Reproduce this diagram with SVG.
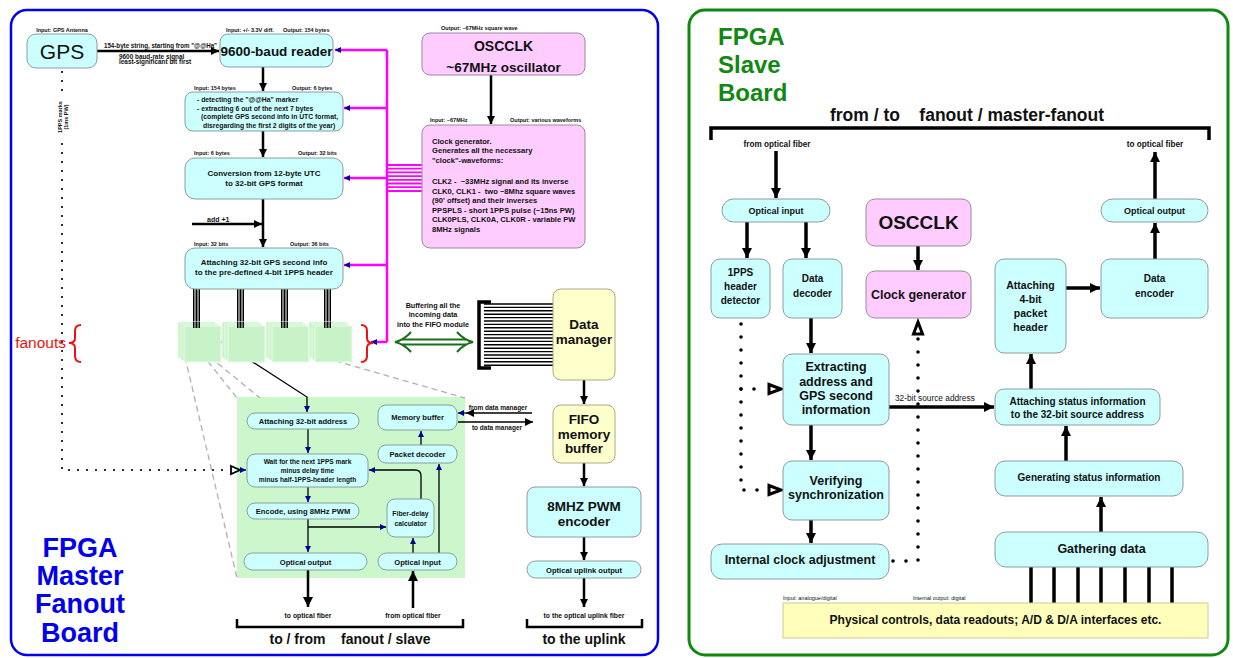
<svg xmlns="http://www.w3.org/2000/svg" width="1233" height="658" viewBox="0 0 1233 658">
<style>
text{font-family:"Liberation Sans",Arial,sans-serif;font-weight:bold;fill:#111}
.c{text-anchor:middle}
.tiny{font-size:5.5px;font-weight:bold}
.cy{fill:#ccffff;stroke:#8c9c9c;stroke-width:1}
.pk{fill:#ffccff;stroke:#9a8a9a;stroke-width:1}
.yl{fill:#ffffcc;stroke:#aaaa88;stroke-width:1}
.ln{stroke:#000;fill:none;stroke-width:2.5}
.lnR{stroke:#000;fill:none;stroke-width:3.5}
.thin{stroke:#000;fill:none;stroke-width:1.3}
.mg{stroke:#ff00ff;fill:none;stroke-width:2.5}
.dash{stroke:#b0b0b0;fill:none;stroke-width:1.3;stroke-dasharray:6 4}
.dotL{stroke:#000;fill:none;stroke-width:2.2;stroke-linecap:round;stroke-dasharray:0 9}
.dotR{stroke:#000;fill:none;stroke-width:3.6;stroke-linecap:round;stroke-dasharray:0 13}
.fan{fill:#c8f3c8;stroke:#eafbea;stroke-width:1}
</style>
<defs>
<marker id="ah" viewBox="0 0 10 10" refX="10" refY="5" markerWidth="11" markerHeight="8" markerUnits="userSpaceOnUse" orient="auto"><path d="M0,0 L10,5 L0,10 z" fill="#000"/></marker>
<marker id="ahL" viewBox="0 0 10 10" refX="10" refY="5" markerWidth="15" markerHeight="10" markerUnits="userSpaceOnUse" orient="auto"><path d="M0,0 L10,5 L0,10 z" fill="#000"/></marker>
<marker id="ab" viewBox="0 0 10 10" refX="10" refY="5" markerWidth="7" markerHeight="6" markerUnits="userSpaceOnUse" orient="auto"><path d="M0,0 L10,5 L0,10 z" fill="#000099"/></marker>
</defs>
<rect width="1233" height="658" fill="#ffffff"/>

<!-- panels -->
<rect x="11" y="10" width="647" height="645" rx="16" fill="none" stroke="#0000ee" stroke-width="2.5"/>
<rect x="689" y="10" width="539" height="645" rx="16" fill="none" stroke="#118811" stroke-width="3"/>

<!-- fanout detail background -->
<rect x="237" y="397" width="228" height="181" fill="#ccf7cc"/>

<g id="connectors">
  <!-- dashed zoom lines -->
  <path class="dash" d="M183,330 L237,398"/>
  <path class="dash" d="M185,357 L237,578"/>
  <path class="dash" d="M210,357 L260,398"/>
  <path class="dash" d="M220,328 L465,398"/>
  <!-- GPS to reader -->
  <path class="ln" d="M97,51 H219" marker-end="url(#ah)"/>
  <path class="ln" d="M263,67 V91" marker-end="url(#ah)"/>
  <path class="ln" d="M263,131 V157" marker-end="url(#ah)"/>
  <path class="ln" d="M263,199 V247" marker-end="url(#ah)"/>
  <path class="ln" d="M192,224 H262" marker-end="url(#ah)"/>
  <path class="ln" d="M491,75 V124" marker-end="url(#ah)"/>
  <!-- magenta clock distribution -->
  <path class="mg" d="M387,50 V342"/>
  <path class="mg" d="M387,50 H335" marker-end="url(#ab)"/>
  <path class="mg" d="M387,108 H344" marker-end="url(#ab)"/>
  <path class="mg" d="M387,178 H344" marker-end="url(#ab)"/>
  <path class="mg" d="M387,265 H344" marker-end="url(#ab)"/>
  <path class="mg" d="M387,342 H371" marker-end="url(#ab)"/>
  <path stroke="#ff00ff" stroke-width="1.8" fill="none" d="M387,165H422M387,168.7H422M387,172.4H422M387,176.1H422M387,179.8H422M387,183.5H422M387,187.2H422M387,191H422"/>
  <!-- fanout bundles -->
  <path stroke="#000" stroke-width="1" fill="none" d="M193.5,289V328M195,289V328M196.5,289V328M198,289V328M199.5,289V328M237.5,289V328M239,289V328M240.5,289V328M242,289V328M243.5,289V328M281.5,289V328M283,289V328M284.5,289V328M286,289V328M287.5,289V328M324.5,289V328M326,289V328M327.5,289V328M329,289V328M330.5,289V328"/>
  <!-- diagonal to detail -->
  <path class="thin" d="M200,328 L307,397 V412" marker-end="url(#ab)"/>
  <!-- detail internal -->
  <path class="thin" d="M308,429 V453" marker-end="url(#ab)"/>
  <path class="thin" d="M308,487 V502" marker-end="url(#ab)"/>
  <path class="thin" d="M308,519 V552" marker-end="url(#ab)"/>
  <path class="thin" d="M308,527 H386" marker-end="url(#ab)"/>
  <path class="thin" d="M421,499 V476 Q421,470 415,470 H369" marker-end="url(#ab)"/>
  <path class="thin" d="M413,553 V538" marker-end="url(#ab)"/>
  <path class="thin" d="M439,553 V464" marker-end="url(#ab)"/>
  <path class="thin" d="M421,445 V431" marker-end="url(#ab)"/>
  <path class="thin" d="M532,413 H466" marker-end="url(#ah)"/>
  <path class="thin" d="M466,413 H458" marker-end="url(#ab)"/>
  <path class="thin" d="M458,422 H533" marker-end="url(#ah)"/>
  <!-- fiber -->
  <path class="ln" d="M308,570 V607" marker-end="url(#ahL)"/>
  <path class="ln" d="M413,608 V571" marker-end="url(#ahL)"/>
  <path class="ln" d="M237,619 V627 H463 V619" stroke-width="2.2"/>
  <!-- uplink chain -->
  <path class="ln" d="M584,380 V404" marker-end="url(#ah)"/>
  <path class="ln" d="M584,463 V486" marker-end="url(#ah)"/>
  <path class="ln" d="M584,537 V560" marker-end="url(#ah)"/>
  <path class="ln" d="M584,578 V607" marker-end="url(#ah)"/>
  <path class="ln" d="M527,619 V627 H642 V619" stroke-width="2.2"/>
  <!-- GPS 1PPS dotted -->
  <path class="dotL" d="M62,72 V470 H230"/>
  <polygon points="231,466 240,470 231,474" fill="#fff" stroke="#000" stroke-width="1.8"/>
  <path class="thin" d="M240,470 H246" marker-end="url(#ab)"/>
  <!-- green double arrow -->
  <g stroke="#1a6e1a" stroke-width="2" fill="none">
    <path d="M402,339.5 H466 M402,344.5 H466"/>
    <path d="M411,332 Q404,340 395,342 Q404,344 411,352"/>
    <path d="M457,332 Q464,340 473,342 Q464,344 457,352"/>
  </g>
  <!-- ribbon -->
  <path stroke="#000" stroke-width="3.5" fill="none" d="M491,302 H479 V368 H491"/>
  <path stroke="#000" stroke-width="1.4" fill="none" d="M484,304H553M484,307.4H553M484,310.8H553M484,314.2H553M484,317.6H553M484,321H553M484,324.4H553M484,327.8H553M484,331.2H553M484,334.6H553M484,338H553M484,341.4H553M484,344.8H553M484,348.2H553M484,351.6H553M484,355H553M484,358.4H553M484,361.8H553M484,365.2H553"/>

  <!-- right panel -->
  <path class="lnR" d="M711,140 V128 H1209 V140" stroke-width="3"/>
  <path class="lnR" d="M776,151 V198" marker-end="url(#ahL)"/>
  <path class="lnR" d="M1155,199 V152" marker-end="url(#ahL)"/>
  <path class="lnR" d="M747,222 V258" marker-end="url(#ahL)"/>
  <path class="lnR" d="M806,222 V258" marker-end="url(#ahL)"/>
  <path class="lnR" d="M918,246 V270" marker-end="url(#ahL)"/>
  <path class="lnR" d="M811,318 V353" marker-end="url(#ahL)"/>
  <path class="lnR" d="M811,425 V460" marker-end="url(#ahL)"/>
  <path class="lnR" d="M811,520 V543" marker-end="url(#ahL)"/>
  <path class="lnR" d="M889,407 H994" marker-end="url(#ahL)"/>
  <path class="lnR" d="M1031,389 V354" marker-end="url(#ahL)"/>
  <path class="lnR" d="M1066,288 H1100" marker-end="url(#ahL)"/>
  <path class="lnR" d="M1155,259 V223" marker-end="url(#ahL)"/>
  <path class="lnR" d="M1066,461 V426" marker-end="url(#ahL)"/>
  <path class="lnR" d="M1101,532 V497" marker-end="url(#ahL)"/>
  <path class="lnR" d="M1031,603V567M1054,603V567M1078,603V567M1101,603V567M1125,603V567M1149,603V567M1172,603V567"/>
  <!-- right dotted -->
  <path class="dotR" d="M741,324 V490 H767"/>
  <path class="dotR" d="M741,389 H767"/>
  <polygon points="769,384.5 781,389 769,393.5" fill="#fff" stroke="#000" stroke-width="3"/>
  <polygon points="769,485.5 781,490 769,494.5" fill="#fff" stroke="#000" stroke-width="3"/>
  <path class="dotR" d="M893,561 H918 V336"/>
  <polygon points="913.5,334 918,322 922.5,334" fill="#fff" stroke="#000" stroke-width="3"/>
</g>

<!-- ===== Master fanout board nodes ===== -->
<g id="gps">
  <rect class="cy" x="27" y="34" width="70" height="34" rx="9"/>
  <text x="62" y="59" class="c" style="font-size:21px;font-weight:normal">GPS</text>
  <text x="62" y="32" class="c tiny">Input: GPS Antenna</text>
</g>
<g id="gps-label">
  <text x="104" y="48" style="font-size:6.8px" textLength="113" lengthAdjust="spacingAndGlyphs">154-byte string, starting from "@@Ha"</text>
  <text x="119" y="58.5" style="font-size:6.4px">9600 baud-rate signal</text>
  <text x="119" y="64" style="font-size:6.4px">least-significant bit first</text>
  <rect x="56" y="98" width="14" height="40" fill="#fff"/>
  <text transform="translate(62,117) rotate(-90)" class="c" style="font-size:5.5px">1PPS marks</text>
  <text transform="translate(68,117) rotate(-90)" class="c" style="font-size:5.5px">(1ms PW)</text>
</g>
<g id="reader">
  <rect class="cy" x="220" y="34" width="113" height="33" rx="8"/>
  <text x="276.5" y="56" class="c" style="font-size:13.5px">9600-baud reader</text>
  <text x="226" y="32" class="tiny">Input: +/- 3.3V diff.</text>
  <text x="283" y="32" class="tiny">Output: 154 bytes</text>
</g>
<g id="detector">
  <rect class="cy" x="185" y="92" width="158" height="39" rx="8"/>
  <text x="194" y="90" class="tiny">Input: 154 bytes</text>
  <text x="292" y="90" class="tiny">Output: 6 bytes</text>
  <g style="font-size:6.8px">
  <text x="197" y="102">- detecting the "@@Ha" marker</text>
  <text x="197" y="110.5">- extracting 6 out of the next 7 bytes</text>
  <text x="201" y="119">(complete GPS second info in UTC format,</text>
  <text x="203" y="127.5">disregarding the first 2 digits of the year)</text>
  </g>
</g>
<g id="conversion">
  <rect class="cy" x="185" y="158" width="158" height="41" rx="10"/>
  <text x="194" y="155" class="tiny">Input: 6 bytes</text>
  <text x="298" y="155" class="tiny">Output: 32 bits</text>
  <text x="264" y="176" class="c" style="font-size:8px">Conversion from 12-byte UTC</text>
  <text x="264" y="186" class="c" style="font-size:8px">to 32-bit GPS format</text>
  <text x="207" y="222" style="font-size:7px">add +1</text>
</g>
<g id="attach-header">
  <rect class="cy" x="185" y="248" width="158" height="41" rx="10"/>
  <text x="194" y="246" class="tiny">Input: 32 bits</text>
  <text x="290" y="246" class="tiny">Output: 36 bits</text>
  <text x="264" y="265" class="c" style="font-size:8px">Attaching 32-bit GPS second info</text>
  <text x="264" y="275" class="c" style="font-size:8px">to the pre-defined 4-bit 1PPS header</text>
</g>
<g id="oscclk-m">
  <rect class="pk" x="422" y="33" width="163" height="42" rx="8"/>
  <text x="441" y="30" class="tiny">Output: ~67MHz square wave</text>
  <text x="503.5" y="51" class="c" style="font-size:14px">OSCCLK</text>
  <text x="503.5" y="72" class="c" style="font-size:13.5px">~67MHz oscillator</text>
</g>
<g id="clockgen-m">
  <rect class="pk" x="422" y="125" width="163" height="123" rx="8"/>
  <text x="430" y="122" class="tiny">Input: ~67MHz</text>
  <text x="510" y="122" class="tiny">Output: various waveforms</text>
  <g style="font-size:7.6px">
  <text x="432" y="144">Clock generator.</text>
  <text x="432" y="153">Generates all the necessary</text>
  <text x="432" y="163">"clock"-waveforms:</text>
  <text x="432" y="184" xml:space="preserve">CLK2 -  ~33MHz signal and its inverse</text>
  <text x="432" y="193.5" xml:space="preserve">CLK0, CLK1 -  two ~8Mhz square waves</text>
  <text x="432" y="203">(90' offset) and their inverses</text>
  <text x="432" y="212.5">PPSPLS - short 1PPS pulse (~15ns PW)</text>
  <text x="432" y="222">CLK0PLS, CLK0A, CLK0R - variable PW</text>
  <text x="432" y="231.5">8MHz signals</text>
  </g>
</g>
<g id="fanouts">
  <rect class="fan" x="178" y="322" width="37" height="36"/><rect class="fan" x="181" y="324" width="37" height="36"/><rect class="fan" x="184" y="326" width="37" height="36"/>
  <rect class="fan" x="222" y="322" width="37" height="36"/><rect class="fan" x="225" y="324" width="37" height="36"/><rect class="fan" x="228" y="326" width="37" height="36"/>
  <rect class="fan" x="266" y="322" width="37" height="36"/><rect class="fan" x="269" y="324" width="37" height="36"/><rect class="fan" x="272" y="326" width="37" height="36"/>
  <rect class="fan" x="309" y="322" width="37" height="36"/><rect class="fan" x="312" y="324" width="37" height="36"/><rect class="fan" x="315" y="326" width="37" height="36"/>
  <path stroke="#000" stroke-width="1" fill="none" d="M193.5,322V328M195,322V328M196.5,322V328M198,322V328M199.5,322V328M237.5,322V328M239,322V328M240.5,322V328M242,322V328M243.5,322V328M281.5,322V328M283,322V328M284.5,322V328M286,322V328M287.5,322V328M324.5,322V328M326,322V328M327.5,322V328M329,322V328M330.5,322V328"/>
  <path d="M81,325 Q75,325 75,331 L75,338 Q75,343 69,343 Q75,343 75,348 L75,356 Q75,362 81,362" stroke="#ee1111" stroke-width="2" fill="none"/>
  <path d="M361,325 Q367,325 367,331 L367,338 Q367,343 373,343 Q367,343 367,348 L367,356 Q367,362 361,362" stroke="#ee1111" stroke-width="2" fill="none"/>
  <text x="66" y="348" style="font-size:15.5px;font-weight:normal;fill:#ee1111;text-anchor:end">fanouts</text>
</g>
<g id="buffering-label">
  <text x="433" y="308" class="c" style="font-size:7.2px">Buffering all the</text>
  <text x="433" y="317" class="c" style="font-size:7.2px">incoming data</text>
  <text x="433" y="326.5" class="c" style="font-size:7.2px">into the FIFO module</text>
</g>
<g id="data-manager">
  <rect class="yl" x="553" y="289" width="62" height="91" rx="8"/>
  <text x="584" y="329" class="c" style="font-size:13.5px">Data</text>
  <text x="584" y="344" class="c" style="font-size:13.5px">manager</text>
</g>
<g id="fifo">
  <rect class="yl" x="553" y="405" width="62" height="58" rx="8"/>
  <text x="584" y="424" class="c" style="font-size:13.5px">FIFO</text>
  <text x="584" y="439" class="c" style="font-size:13.5px">memory</text>
  <text x="584" y="453" class="c" style="font-size:13.5px">buffer</text>
</g>
<g id="pwm-encoder">
  <rect class="cy" x="527" y="487" width="114" height="50" rx="8"/>
  <text x="584" y="511" class="c" style="font-size:13.5px">8MHZ PWM</text>
  <text x="584" y="526" class="c" style="font-size:13.5px">encoder</text>
</g>
<g id="uplink-out">
  <rect class="cy" x="527" y="561" width="114" height="17" rx="8.5"/>
  <text x="584" y="572.5" class="c" style="font-size:7.6px">Optical uplink output</text>
  <text x="584" y="618" class="c" style="font-size:6.8px">to the optical uplink fiber</text>
  <text x="584" y="644" class="c" style="font-size:14px">to the uplink</text>
</g>
<g id="attach-addr">
  <rect class="cy" x="247" y="413" width="112" height="16" rx="8"/>
  <text x="303" y="424" class="c" style="font-size:7.6px">Attaching 32-bit address</text>
</g>
<g id="mem-buffer">
  <rect class="cy" x="378" y="405" width="79" height="25" rx="8"/>
  <text x="417.5" y="420" class="c" style="font-size:7.6px">Memory buffer</text>
  <text x="498" y="410" class="c" style="font-size:6.5px">from data manager</text>
  <text x="497" y="430" class="c" style="font-size:6.5px">to data manager</text>
</g>
<g id="packet-decoder">
  <rect class="cy" x="378" y="445" width="79" height="18" rx="8"/>
  <text x="417.5" y="457" class="c" style="font-size:7.6px">Packet decoder</text>
</g>
<g id="wait">
  <rect class="cy" x="247" y="454" width="121" height="33" rx="8"/>
  <text x="307.5" y="464" class="c" style="font-size:6.6px">Wait for the next 1PPS mark</text>
  <text x="307.5" y="473" class="c" style="font-size:6.6px">minus delay time</text>
  <text x="307.5" y="481.5" class="c" style="font-size:6.6px">minus half-1PPS-header length</text>
</g>
<g id="encode">
  <rect class="cy" x="247" y="503" width="112" height="16" rx="8"/>
  <text x="303" y="514" class="c" style="font-size:7.6px">Encode, using 8MHz PWM</text>
</g>
<g id="fiber-delay">
  <rect class="cy" x="387" y="499" width="47" height="38" rx="8"/>
  <text x="410.5" y="516" class="c" style="font-size:6.8px">Fiber-delay</text>
  <text x="410.5" y="526" class="c" style="font-size:6.8px">calculator</text>
</g>
<g id="optical-out-m">
  <rect class="cy" x="244" y="553" width="123" height="17" rx="8.5"/>
  <text x="305.5" y="564.5" class="c" style="font-size:7.6px">Optical output</text>
  <text x="308" y="618" class="c" style="font-size:6.8px">to optical fiber</text>
</g>
<g id="optical-in-m">
  <rect class="cy" x="378" y="553" width="79" height="17" rx="8.5"/>
  <text x="417.5" y="564.5" class="c" style="font-size:7.6px">Optical input</text>
  <text x="413" y="618" class="c" style="font-size:6.8px">from optical fiber</text>
</g>
<g id="master-title">
  <text x="350" y="644" class="c" style="font-size:14px" xml:space="preserve">to / from    fanout / slave</text>
  <text x="80" y="557" class="c" style="font-size:27px;fill:#0000ee">FPGA</text>
  <text x="80" y="585" class="c" style="font-size:27px;fill:#0000ee">Master</text>
  <text x="80" y="613" class="c" style="font-size:27px;fill:#0000ee">Fanout</text>
  <text x="80" y="642" class="c" style="font-size:27px;fill:#0000ee">Board</text>
</g>

<!-- ===== Slave board nodes ===== -->
<g id="slave-title">
  <text x="718" y="45" style="font-size:24px;fill:#118811">FPGA</text>
  <text x="718" y="73" style="font-size:24px;fill:#118811">Slave</text>
  <text x="718" y="101" style="font-size:24px;fill:#118811">Board</text>
  <text x="967" y="121" class="c" style="font-size:17.5px" xml:space="preserve">from / to    fanout / master-fanout</text>
  <text x="777" y="147" class="c" style="font-size:8.2px">from optical fiber</text>
  <text x="1155" y="147" class="c" style="font-size:8.2px">to optical fiber</text>
</g>
<g id="optical-in-s">
  <rect class="cy" x="722" y="199" width="108" height="23" rx="11.5"/>
  <text x="776" y="214" class="c" style="font-size:9px">Optical input</text>
</g>
<g id="optical-out-s">
  <rect class="cy" x="1101" y="199" width="107" height="23" rx="11.5"/>
  <text x="1154.5" y="214" class="c" style="font-size:9px">Optical output</text>
</g>
<g id="oscclk-s">
  <rect class="pk" x="866" y="199" width="105" height="47" rx="9"/>
  <text x="918.5" y="229" class="c" style="font-size:19px">OSCCLK</text>
</g>
<g id="clockgen-s">
  <rect class="pk" x="866" y="271" width="105" height="47" rx="9"/>
  <text x="918.5" y="299" class="c" style="font-size:12.5px">Clock generator</text>
</g>
<g id="pps-detector">
  <rect class="cy" x="711" y="259" width="59" height="59" rx="9"/>
  <text x="740.5" y="276" class="c" style="font-size:10px">1PPS</text>
  <text x="740.5" y="290" class="c" style="font-size:10px">header</text>
  <text x="740.5" y="304" class="c" style="font-size:10px">detector</text>
</g>
<g id="data-decoder">
  <rect class="cy" x="783" y="259" width="59" height="59" rx="9"/>
  <text x="812.5" y="282" class="c" style="font-size:10px">Data</text>
  <text x="812.5" y="297" class="c" style="font-size:10px">decoder</text>
</g>
<g id="attach-4bit">
  <rect class="cy" x="995" y="259" width="71" height="94" rx="9"/>
  <text x="1030.5" y="289" class="c" style="font-size:10.5px">Attaching</text>
  <text x="1030.5" y="303" class="c" style="font-size:10.5px">4-bit</text>
  <text x="1030.5" y="317" class="c" style="font-size:10.5px">packet</text>
  <text x="1030.5" y="331" class="c" style="font-size:10.5px">header</text>
</g>
<g id="data-encoder">
  <rect class="cy" x="1101" y="259" width="107" height="59" rx="9"/>
  <text x="1154.5" y="282" class="c" style="font-size:10px">Data</text>
  <text x="1154.5" y="297" class="c" style="font-size:10px">encoder</text>
</g>
<g id="extracting">
  <rect class="cy" x="783" y="354" width="106" height="71" rx="9"/>
  <text x="836" y="371" class="c" style="font-size:12.5px">Extracting</text>
  <text x="836" y="385.5" class="c" style="font-size:12.5px">address and</text>
  <text x="836" y="399.5" class="c" style="font-size:12.5px">GPS second</text>
  <text x="836" y="414" class="c" style="font-size:12.5px">information</text>
  <text x="895" y="401" style="font-size:8.3px;font-weight:normal">32-bit source address</text>
</g>
<g id="attach-status">
  <rect class="cy" x="995" y="389" width="165" height="36" rx="9"/>
  <text x="1077.5" y="404.5" class="c" style="font-size:10px">Attaching status information</text>
  <text x="1077.5" y="418" class="c" style="font-size:10px">to the 32-bit source address</text>
</g>
<g id="verifying">
  <rect class="cy" x="783" y="461" width="106" height="59" rx="9"/>
  <text x="836" y="484.5" class="c" style="font-size:12.5px">Verifying</text>
  <text x="836" y="498.5" class="c" style="font-size:12.5px">synchronization</text>
</g>
<g id="internal-clock">
  <rect class="cy" x="711" y="544" width="178" height="35" rx="11"/>
  <text x="800" y="563.5" class="c" style="font-size:12.5px">Internal clock adjustment</text>
</g>
<g id="gen-status">
  <rect class="cy" x="995" y="461" width="188" height="35" rx="10"/>
  <text x="1089" y="480.5" class="c" style="font-size:10px">Generating status information</text>
</g>
<g id="gathering">
  <rect class="cy" x="995" y="532" width="213" height="35" rx="11"/>
  <text x="1101.5" y="553" class="c" style="font-size:12.5px">Gathering data</text>
</g>
<g id="physical">
  <rect x="783" y="603" width="425" height="35" fill="#ffffbb" stroke="#cccc99" stroke-width="1"/>
  <text x="995.5" y="624" class="c" style="font-size:12px">Physical controls, data readouts; A/D &amp; D/A interfaces etc.</text>
  <text x="783" y="600" class="tiny" style="font-weight:normal">Input: analogue/digital</text>
  <text x="913" y="600" class="tiny" style="font-weight:normal">Internal output: digital</text>
</g>
</svg>
